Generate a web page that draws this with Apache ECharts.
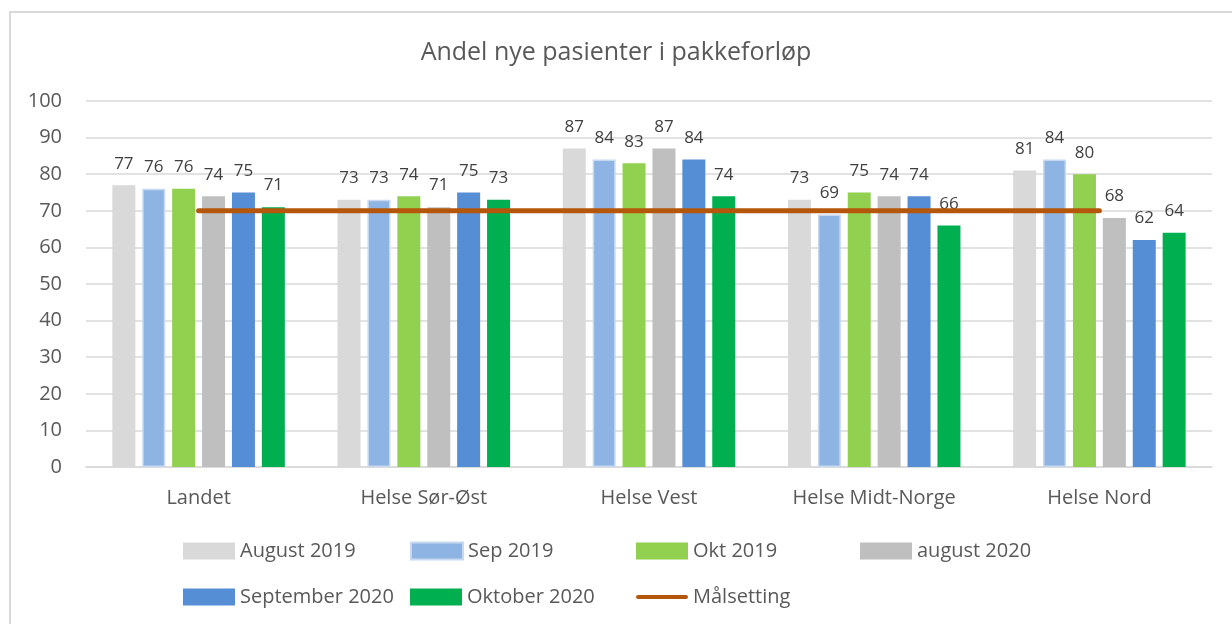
<!DOCTYPE html>
<html>
<head>
<meta charset="utf-8">
<script src="https://cdn.jsdelivr.net/npm/echarts@6/dist/echarts.min.js"></script>
<style>
  html, body { margin: 0; padding: 0; background: #fff; }
  #frame { position: absolute; left: 9px; top: 11px; width: 1240px; height: 700px; border: 2px solid #d9d9d9; }
  #chart { position: absolute; left: 0; top: 0; width: 1232px; height: 624px; }
</style>
</head>
<body>
<div id="frame"></div>
<div id="chart"></div>
<script>
const regions = ['Landet', 'Helse Sør-Øst', 'Helse Vest', 'Helse Midt-Norge', 'Helse Nord'];
const aug2019 = [77, 73, 87, 73, 81];
const sep2019 = [76, 73, 84, 69, 84];
const okt2019 = [76, 74, 83, 75, 80];
const aug2020 = [74, 71, 87, 74, 68];
const sep2020 = [75, 75, 84, 74, 62];
const okt2020 = [71, 73, 74, 66, 64];
const target = [70, 70, 70, 70, 70];

const font = 'Open Sans';
const textCol = '#595959';
const lineCol = '#b5570b';

function bar(name, data, color, border) {
    return {
        name: name,
        type: 'bar',
        data: data,
        barWidth: 23,
        barGap: '30%',
        itemStyle: { color: color, borderColor: border || color, borderWidth: border ? 1.5 : 0 },
        label: {
            show: true,
            position: 'top',
            distance: 13,
            color: '#404040',
            fontFamily: font,
            fontSize: 17
        }
    };
}

const lineIcon = 'path://M2,0 L50,0 A2,2 0 0 1 50,4 L2,4 A2,2 0 0 1 2,0 Z';

// legend laid out as a grid: one legend component per cell
const legendCells = [
    ['August 2019', 183, 541],
    ['Sep 2019', 410, 541],
    ['Okt 2019', 636, 541],
    ['august 2020', 860, 541],
    ['September 2020', 183, 587],
    ['Oktober 2020', 410, 587],
    ['Målsetting', 636, 587]
];
const legends = legendCells.map(function (c) {
    return {
        data: [{ name: c[0], icon: c[0] === 'Målsetting' ? lineIcon : 'rect' }],
        left: c[1], top: c[2],
        padding: 0,
        itemWidth: 52, itemHeight: 17,
        textStyle: { color: textCol, fontFamily: font, fontSize: 20 }
    };
});

const myChart = echarts.init(document.getElementById('chart'));
const option = {
    animation: false,
    title: {
        text: 'Andel nye pasienter i pakkeforløp',
        left: 'center',
        top: 35,
        textStyle: { color: textCol, fontFamily: font, fontSize: 25, fontWeight: 'normal' }
    },
    legend: legends,
    grid: { left: 86, right: 20, top: 101, bottom: 157 },
    xAxis: {
        type: 'category',
        data: regions,
        axisLine: { lineStyle: { color: '#d9d9d9', width: 1.5 } },
        axisTick: { show: false },
        axisLabel: { color: textCol, fontFamily: font, fontSize: 20, margin: 21 }
    },
    yAxis: {
        type: 'value',
        min: 0, max: 100, interval: 10,
        axisLine: { show: false },
        axisTick: { show: false },
        splitLine: { lineStyle: { color: '#d9d9d9', width: 1.5 } },
        axisLabel: { color: textCol, fontFamily: font, fontSize: 20, margin: 24 }
    },
    series: [
        bar('August 2019', aug2019, '#d9d9d9'),
        bar('Sep 2019', sep2019, '#8eb4e3', '#c6d9f1'),
        bar('Okt 2019', okt2019, '#92d050'),
        bar('august 2020', aug2020, '#bfbfbf'),
        bar('September 2020', sep2020, '#558ed5'),
        bar('Oktober 2020', okt2020, '#00b050'),
        {
            name: 'Målsetting',
            type: 'line',
            data: target,
            symbol: 'none',
            z: 5,
            itemStyle: { color: lineCol },
            lineStyle: { color: lineCol, width: 5, cap: 'round' }
        }
    ]
};
option && myChart.setOption(option);
</script>
</body>
</html>
